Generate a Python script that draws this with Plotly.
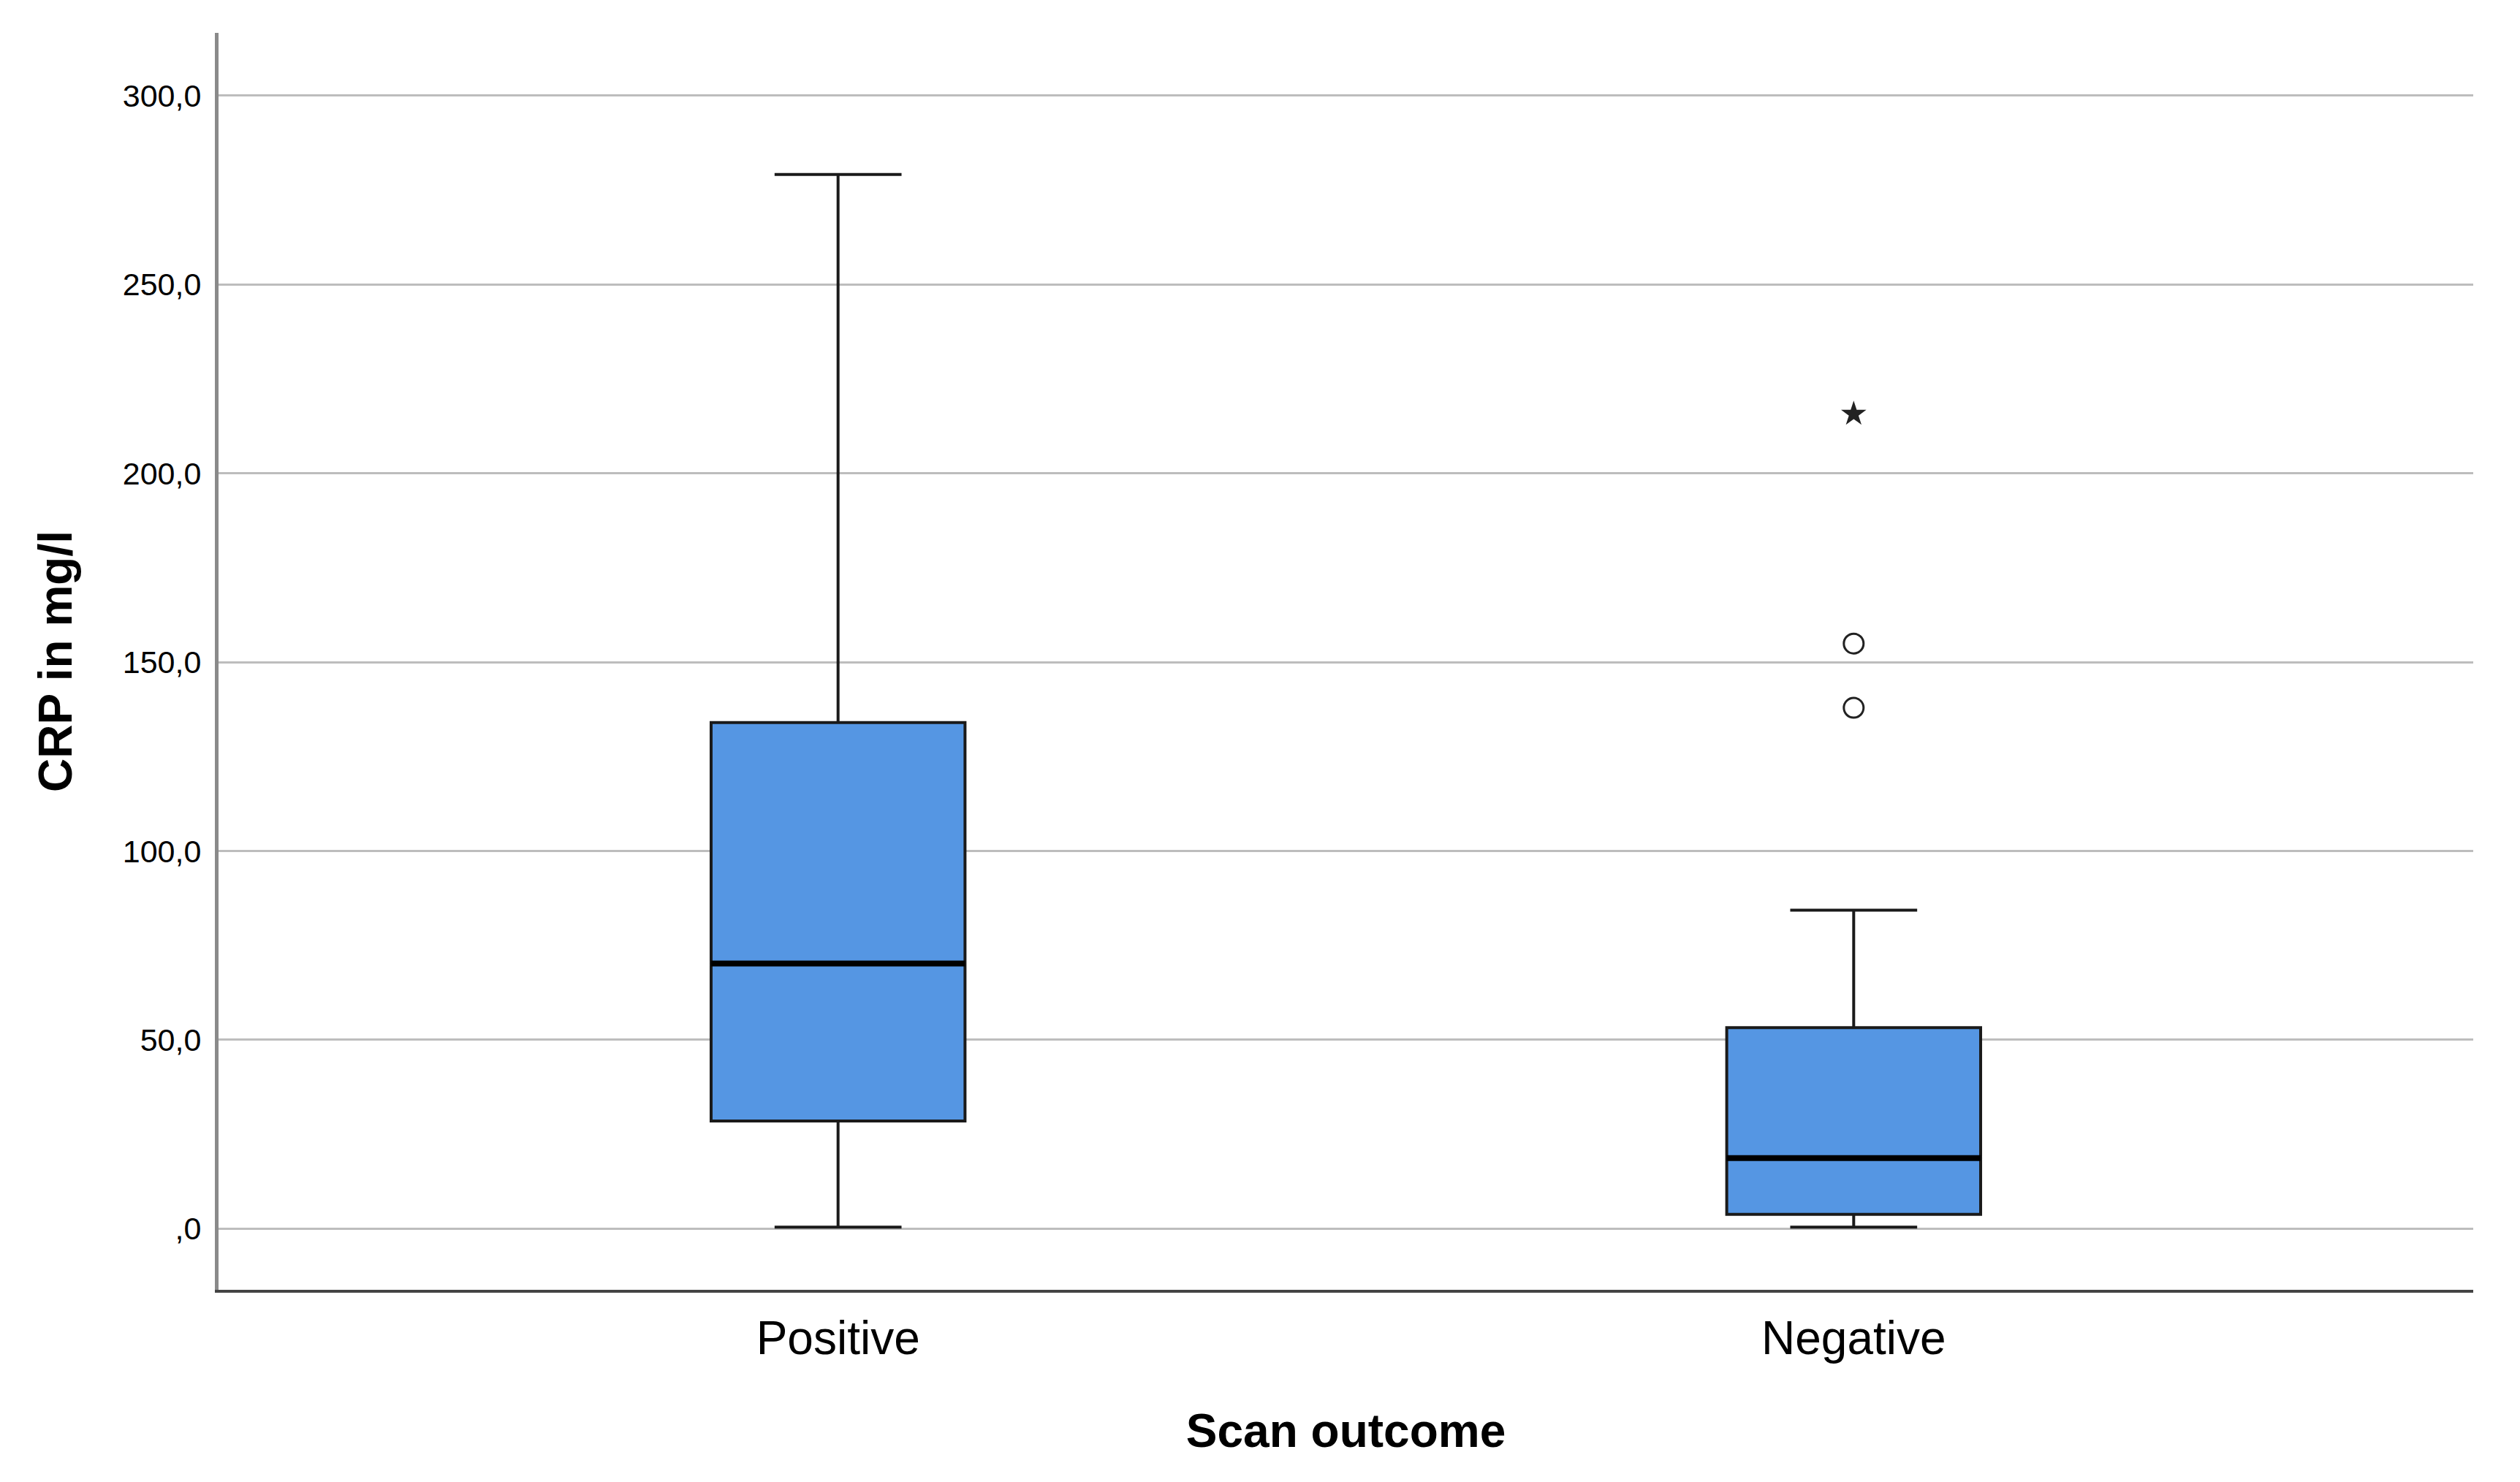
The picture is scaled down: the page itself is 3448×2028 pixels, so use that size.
import plotly.graph_objects as go

# ---- data ----
categories = ["Positive", "Negative"]
lower_whisker = [0.4, 0.4]
q1_values = [28.5, 3.8]
medians = [70.2, 18.7]
q3_values = [134.0, 53.2]
upper_whisker = [279.1, 84.3]
circle_outlier_cat = [1, 1]
circle_outlier_vals = [154.9, 137.9]
star_outlier_cat = [1]
star_outlier_vals = [215.7]
y_tickvals = [0, 50, 100, 150, 200, 250, 300]
y_ticktext = [",0", "50,0", "100,0", "150,0", "200,0", "250,0", "300,0"]

FONT = "Liberation Sans, Arial, sans-serif"
BOX_W = 0.25
x_pos = list(range(len(categories)))

fig = go.Figure()

fig.add_trace(go.Box(
    x=x_pos,
    q1=q1_values, median=medians, q3=q3_values,
    lowerfence=lower_whisker, upperfence=upper_whisker,
    width=BOX_W, whiskerwidth=0.5,
    fillcolor="#5596E3",
    line=dict(color="#1a1a1a", width=4),
    boxpoints=False, hoverinfo="skip", showlegend=False,
))

# thicker median lines
mx, my = [], []
for i, m in zip(x_pos, medians):
    mx += [i - BOX_W / 2, i + BOX_W / 2, None]
    my += [m, m, None]
fig.add_trace(go.Scatter(x=mx, y=my, mode="lines",
                         line=dict(color="#000000", width=8),
                         showlegend=False, hoverinfo="skip"))

fig.add_trace(go.Scatter(
    x=circle_outlier_cat, y=circle_outlier_vals, mode="markers",
    marker=dict(symbol="circle-open", size=27, color="#222222",
                line=dict(width=3, color="#222222")),
    showlegend=False, hoverinfo="skip"))

fig.add_trace(go.Scatter(
    x=star_outlier_cat, y=star_outlier_vals, mode="markers",
    marker=dict(symbol="star", size=26, color="#222222",
                line=dict(width=0)),
    showlegend=False, hoverinfo="skip"))

fig.update_layout(
    width=3448, height=2028,
    margin=dict(l=291, r=72, t=37, b=271),
    paper_bgcolor="white", plot_bgcolor="white",
    font=dict(family=FONT, color="#000000"),
    showlegend=False,
)

fig.update_xaxes(
    range=[-0.61, 1.61],
    tickmode="array", tickvals=x_pos, ticktext=categories,
    tickfont=dict(size=64, family=FONT, color="#000"),
    ticks="", ticklabelstandoff=7,
    showgrid=False, zeroline=False,
    showline=True, linecolor="#444444", linewidth=4,
    title=dict(text="<b>Scan outcome</b>", font=dict(size=64, family=FONT, color="#000"),
               standoff=70),
)

fig.update_yaxes(
    range=[-16.2, 316.6],
    tickmode="array", tickvals=y_tickvals, ticktext=y_ticktext,
    tickfont=dict(size=43, family=FONT, color="#000"),
    ticks="", ticklabelstandoff=10,
    showgrid=True, gridcolor="#BDBDBD", gridwidth=3,
    zeroline=False,
    showline=True, linecolor="#8a8a8a", linewidth=5,
    title=dict(text="<b>CRP in mg/l</b>", font=dict(size=64, family=FONT, color="#000"),
               standoff=50),
)

fig.write_html("out.html")
